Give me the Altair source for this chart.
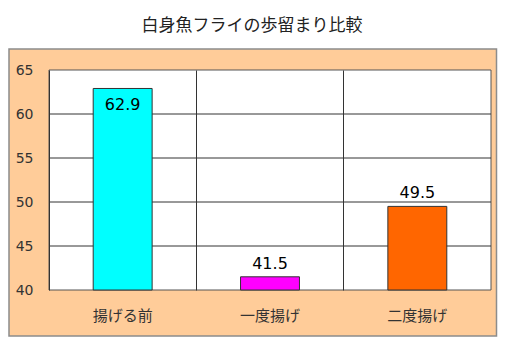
import altair as alt
import pandas as pd

categories = ["揚げる前", "一度揚げ", "二度揚げ"]
values = [62.9, 41.5, 49.5]
colors = ["#00FFFF", "#FF00FF", "#FF6600"]
grid_values = [45, 50, 55, 60]
y_ticks = [40, 45, 50, 55, 60, 65]
title_text = "白身魚フライの歩留まり比較"

W, H = 442, 220
FONT = "Noto Sans CJK JP"
NUMFONT = "DejaVu Sans"

df = pd.DataFrame({"cat": categories, "val": values, "color": colors})
grid_df = pd.DataFrame({"g": grid_values})

xscale = alt.Scale(domain=categories, paddingInner=0, paddingOuter=0)
yscale = alt.Scale(domain=[40, 65], zero=False, nice=False)

base = alt.Chart(df)

# orange outer box
outer = base.transform_filter("datum.cat == '揚げる前'").mark_rect(
    fill="#FFCC99", stroke="#8C8C8C", strokeWidth=1.5
).encode(
    x=alt.value(-40), x2=alt.value(W + 5.5), y=alt.value(-21), y2=alt.value(H + 46)
)

# white plot area
plot_bg = base.transform_filter("datum.cat == '揚げる前'").mark_rect(
    fill="white", stroke="#555555", strokeWidth=1
).encode(
    x=alt.value(0), x2=alt.value(W), y=alt.value(0), y2=alt.value(H)
)

hgrid = alt.Chart(grid_df).mark_rule(color="#333333", strokeWidth=1).encode(
    y=alt.Y("g:Q", scale=yscale)
)

bars = base.mark_bar(width={"band": 0.4}, stroke="#333333", strokeWidth=1).encode(
    x=alt.X("cat:N", scale=xscale, sort=categories,
            axis=alt.Axis(title=None, labelAngle=0, ticks=False, tickSize=0, domain=False,
                          grid=True, gridColor="#333333", bandPosition=0,
                          labelFont=FONT, labelFontSize=15, labelColor="#333333",
                          labelBaseline="middle", labelPadding=25, zindex=1)),
    y=alt.Y("val:Q", scale=yscale,
            axis=alt.Axis(title=None, values=y_ticks, ticks=False, tickSize=0, domain=False,
                          grid=False, labelFont=NUMFONT, labelFontSize=14,
                          labelColor="#333333", labelPadding=16, zindex=1)),
    y2=alt.datum(40),
    color=alt.Color("color:N", scale=None),
)

label_in = base.transform_filter("datum.val >= 60").mark_text(
    font=NUMFONT, fontSize=16, color="black", baseline="middle", dy=17
).encode(x=alt.X("cat:N", scale=xscale, sort=categories),
         y=alt.Y("val:Q", scale=yscale), text=alt.Text("val:Q", format=".1f"))

label_out = base.transform_filter("datum.val < 60").mark_text(
    font=NUMFONT, fontSize=16, color="black", baseline="middle", dy=-13
).encode(x=alt.X("cat:N", scale=xscale, sort=categories),
         y=alt.Y("val:Q", scale=yscale), text=alt.Text("val:Q", format=".1f"))

chart = alt.layer(outer, plot_bg, hgrid, bars, label_in, label_out).properties(
    width=W, height=H,
    title=alt.TitleParams(title_text, font=FONT, fontSize=17, fontWeight="normal",
                          color="#222222", anchor="middle", dx=-18, offset=13),
    autosize=alt.AutoSizeParams(type="none"),
    padding={"left": 41, "top": 62, "right": 7, "bottom": 50},
    background="white",
).configure_view(stroke=None)

chart.save("out.html", embed_options={"renderer": "svg", "actions": False})
